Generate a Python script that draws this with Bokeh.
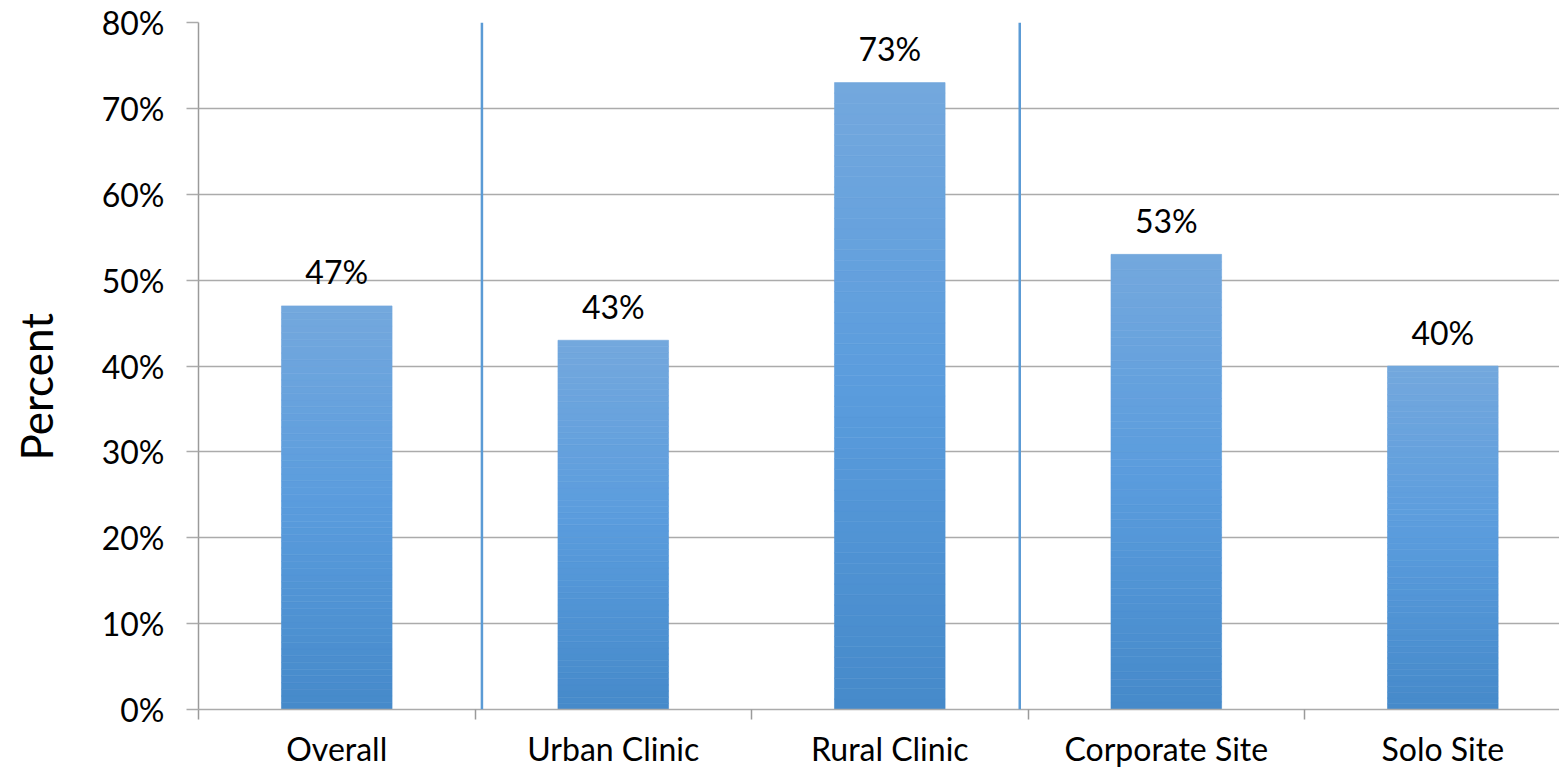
from bokeh.plotting import figure
from bokeh.models import Range1d, FixedTicker, Span, Title, ColumnDataSource
from bokeh.core.properties import value
from bokeh.embed import file_html
from bokeh.resources import INLINE

# ---- data ----
categories = ["Overall", "Urban Clinic", "Rural Clinic", "Corporate Site", "Solo Site"]
percent = [47, 43, 73, 53, 40]
y_ticks = [0, 10, 20, 30, 40, 50, 60, 70, 80]
separators = [1.025, 2.97]  # blue group dividers (in category units)

FONT = "Lato"
GRID = "#ABABAB"
AXIS = "#9A9A9A"

p = figure(width=1559, height=770, output_backend="svg", toolbar_location=None,
           x_range=Range1d(0, 4.922), y_range=Range1d(0, 80),
           min_border_left=198, min_border_right=0, min_border_top=22, min_border_bottom=59)
p.outline_line_color = None
p.background_fill_color = "white"

# gradient bars: stacked slices, light at top, darker at bottom
top_c = (116, 168, 221)
mid_c = (90, 156, 221)
bot_c = (70, 138, 202)

def lerp(a, b, t):
    return tuple(int(round(a[i] + (b[i] - a[i]) * t)) for i in range(3))

N = 60
xs, bots, tops, cols = [], [], [], []
for i, v in enumerate(percent):
    for k in range(N):
        f = k / N  # 0 at bottom
        if f < 0.5:
            c = lerp(bot_c, mid_c, f / 0.5)
        else:
            c = lerp(mid_c, top_c, (f - 0.5) / 0.5)
        xs.append(i + 0.5)
        bots.append(v * k / N)
        tops.append(v * (k + 1) / N)
        cols.append("#%02x%02x%02x" % c)
src = ColumnDataSource(dict(x=xs, bottom=bots, top=tops, color=cols))
p.vbar(x="x", bottom="bottom", top="top", width=0.4, source=src,
       fill_color="color", line_color="color", line_width=0.6)

# value labels
lab = ColumnDataSource(dict(x=[i + 0.5 for i in range(len(percent))], y=percent,
                            t=[f"{v}%" for v in percent]))
p.text(x="x", y="y", text="t", source=lab, text_align="center", text_baseline="alphabetic",
       y_offset=-34, text_font=value(FONT), text_font_size="32px", text_color="black")

# separators
for s in separators:
    p.add_layout(Span(location=s, dimension="height", line_color="#5B9BD5", line_width=2.5))

# y axis
p.yaxis.ticker = FixedTicker(ticks=y_ticks)
p.yaxis.major_label_overrides = {t: f"{t}%" for t in y_ticks}
p.yaxis.major_label_text_font = FONT
p.yaxis.major_label_text_font_size = "32px"
p.yaxis.major_label_text_color = "black"
p.yaxis.major_tick_out = 12
p.yaxis.major_tick_in = 0
p.yaxis.minor_tick_out = 0
p.yaxis.minor_tick_in = 0
p.yaxis.major_tick_line_color = GRID
p.yaxis.major_tick_line_width = 1.5
p.yaxis.axis_line_color = AXIS
p.yaxis.axis_line_width = 1.5
p.yaxis.major_label_standoff = 22

# x axis: labels at centers, tick marks at boundaries
p.xaxis.ticker = FixedTicker(ticks=[i + 0.5 for i in range(len(categories))],
                             minor_ticks=list(range(len(categories) + 1)))
p.xaxis.major_label_overrides = {i + 0.5: c for i, c in enumerate(categories)}
p.xaxis.major_label_text_font = FONT
p.xaxis.major_label_text_font_size = "32px"
p.xaxis.major_label_text_color = "black"
p.xaxis.major_tick_out = 0
p.xaxis.major_tick_in = 0
p.xaxis.minor_tick_out = 10
p.xaxis.minor_tick_in = 0
p.xaxis.minor_tick_line_color = AXIS
p.xaxis.minor_tick_line_width = 1.5
p.xaxis.axis_line_color = GRID
p.xaxis.axis_line_width = 1.5
p.xaxis.major_label_standoff = 9

# grid
p.xgrid.grid_line_color = None
p.ygrid.ticker = FixedTicker(ticks=y_ticks)
p.ygrid.grid_line_color = GRID
p.ygrid.grid_line_width = 1.5

# spacer between tick labels and the y title
p.add_layout(Title(text=" ", standoff=22, text_font_size="2px"), "left")
# y axis title
p.add_layout(Title(text="Percent", align="left", offset=249, standoff=18, vertical_align="top",
                   text_font=FONT, text_font_size="44px", text_font_style="normal",
                   text_color="black"), "left")

open("out.html", "w").write(file_html(p, INLINE))
